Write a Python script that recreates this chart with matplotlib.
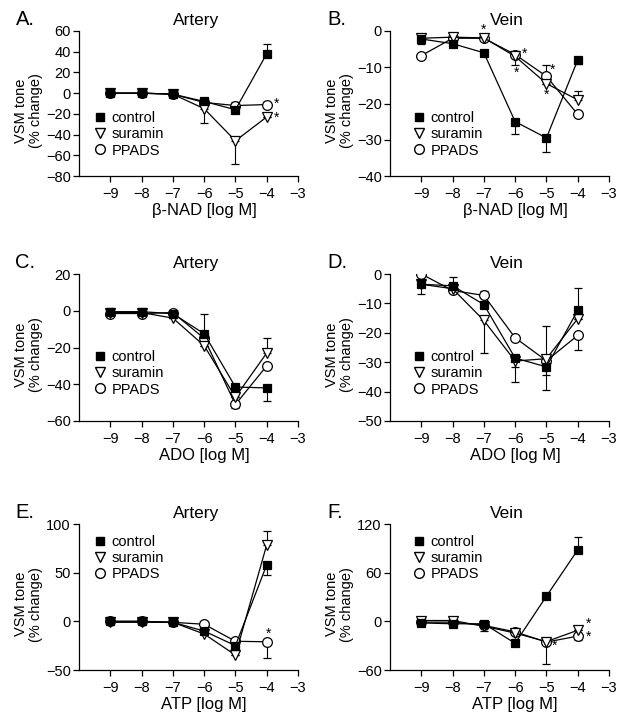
import matplotlib
matplotlib.use("Agg")
import matplotlib.pyplot as plt
from matplotlib.lines import Line2D

plt.rcParams["font.family"] = ["Liberation Sans", "DejaVu Sans"]

# ── data ─────────────────────────────────────────────────────────────────────
dose = [-9, -8, -7, -6, -5, -4]
groups = ["control", "suramin", "PPADS"]

# A. beta-NAD, artery
a_ctrl = [0, 0, -1, -8, -16, 38]
a_ctrl_lo = [0, 0, 0, 1, 2, 0]
a_ctrl_hi = [1, 1, 1, 1, 0, 9]
a_sur = [0, 0, -1, -15, -46, -23]
a_sur_lo = [0, 0, 0, 14, 22, 0]
a_sur_hi = [0, 0, 0, 0, 0, 0]
a_ppads = [0, 0, -1, -9, -12, -11]
a_ppads_lo = [0, 0, 0, 0, 0, 0]
a_ppads_hi = [0, 0, 0, 0, 3, 2]

# B. beta-NAD, vein
b_ctrl = [-2.2, -3.5, -6, -25, -29.5, -8]
b_ctrl_lo = [1.3, 0.5, 0, 3.5, 3.8, 1]
b_ctrl_hi = [0, 0, 0, 0, 0, 0.5]
b_sur = [-2, -1.7, -1.9, -7, -14.5, -19]
b_sur_lo = [0, 0, 0, 2.5, 0, 0]
b_sur_hi = [0, 0, 0, 0, 0, 2.5]
b_ppads = [-6.8, -2, -2, -6.5, -12.5, -23]
b_ppads_lo = [0, 0, 0, 0, 0, 0]
b_ppads_hi = [0, 0, 0, 1, 3, 0]

# C. ADO, artery
c_ctrl = [-0.5, -0.5, -1.6, -12.5, -41.5, -42]
c_ctrl_lo = [0, 0, 0, 0, 0, 7]
c_ctrl_hi = [0, 0, 0, 10.5, 0, 0]
c_sur = [-1, -1, -4, -19, -47, -23]
c_sur_lo = [0, 0, 0, 0, 0, 0]
c_sur_hi = [0, 0, 0, 0, 0, 8]
c_ppads = [-1.5, -1.5, -1, -15, -51, -30]
c_ppads_lo = [0, 0, 0, 0, 2, 0]
c_ppads_hi = [0, 0, 0, 0, 0, 0]

# D. ADO, vein
d_ctrl = [-3.5, -4, -10.4, -28.6, -31.6, -12.4]
d_ctrl_lo = [3.4, 0, 0, 3, 8, 0]
d_ctrl_hi = [0, 3, 4.5, 0, 0, 7.5]
d_sur = [-3.5, -5, -15.8, -29.6, -28.8, -15.2]
d_sur_lo = [0, 0, 11, 7.3, 0, 0]
d_sur_hi = [0, 0, 0, 0, 11, 0]
d_ppads = [0, -5.6, -7.3, -21.7, -29.5, -20.9]
d_ppads_lo = [0, 0, 0, 0, 5, 5]
d_ppads_hi = [0, 0, 0, 0, 0, 0]

# E. ATP, artery
e_ctrl = [0, 0, -1, -10, -25, 58]
e_ctrl_lo = [0, 0, 0, 0, 0, 10.5]
e_ctrl_hi = [0, 0, 0, 0, 0, 0]
e_sur = [-1, -1, -1, -13, -34.7, 78.6]
e_sur_lo = [0, 0, 0, 0, 0, 0]
e_sur_hi = [0, 0, 0, 0, 0, 14]
e_ppads = [0, 0, -1, -3, -20.5, -21]
e_ppads_lo = [0, 0, 0, 0, 0, 17]
e_ppads_hi = [0, 0, 0, 0, 0, 0]

# F. ATP, vein
f_ctrl = [-2, -3, -3, -27, 31, 88]
f_ctrl_lo = [0, 0, 0, 0, 0, 0]
f_ctrl_hi = [0, 0, 0, 0, 3, 16]
f_sur = [1, 1, -6, -14.5, -25, -11]
f_sur_lo = [0, 0, 6.5, 0, 27, 0]
f_sur_hi = [0, 0, 0, 0, 0, 0]
f_ppads = [-1, -1, -5, -13, -25.6, -18.2]
f_ppads_lo = [0, 0, 0, 0, 0, 5]
f_ppads_hi = [0, 0, 0, 0, 0, 0]

# significance marks (x, y)
a_stars = [(-3.7, -10.6), (-3.7, -23.5)]
b_stars = [(-7.0, 0.3), (-5.7, -6.4), (-5.97, -11.4), (-4.8, -10.8), (-5.0, -17.7)]
e_stars = [(-3.95, -12.4)]
f_stars = [(-4.75, -29.8), (-3.67, -2.5), (-3.67, -19.5)]

panels = [
    dict(letter="A.", title="Artery", xlabel="β-NAD [log M]", ylim=(-80, 60), step=20,
         series=[(a_ppads, a_ppads_lo, a_ppads_hi), (a_sur, a_sur_lo, a_sur_hi),
                 (a_ctrl, a_ctrl_lo, a_ctrl_hi)],
         stars=a_stars, leg_y=0.377, leg_x=0.07),
    dict(letter="B.", title="Vein", xlabel="β-NAD [log M]", ylim=(-40, 0), step=10,
         series=[(b_ppads, b_ppads_lo, b_ppads_hi), (b_sur, b_sur_lo, b_sur_hi),
                 (b_ctrl, b_ctrl_lo, b_ctrl_hi)],
         stars=b_stars, leg_y=0.377, leg_x=0.105),
    dict(letter="C.", title="Artery", xlabel="ADO [log M]", ylim=(-60, 20), step=20,
         series=[(c_ppads, c_ppads_lo, c_ppads_hi), (c_sur, c_sur_lo, c_sur_hi),
                 (c_ctrl, c_ctrl_lo, c_ctrl_hi)],
         stars=[], leg_y=0.412, leg_x=0.07),
    dict(letter="D.", title="Vein", xlabel="ADO [log M]", ylim=(-50, 0), step=10,
         series=[(d_ppads, d_ppads_lo, d_ppads_hi), (d_sur, d_sur_lo, d_sur_hi),
                 (d_ctrl, d_ctrl_lo, d_ctrl_hi)],
         stars=[], leg_y=0.412, leg_x=0.105),
    dict(letter="E.", title="Artery", xlabel="ATP [log M]", ylim=(-50, 100), step=50,
         series=[(e_ppads, e_ppads_lo, e_ppads_hi), (e_sur, e_sur_lo, e_sur_hi),
                 (e_ctrl, e_ctrl_lo, e_ctrl_hi)],
         stars=e_stars, leg_y=0.854, leg_x=0.07),
    dict(letter="F.", title="Vein", xlabel="ATP [log M]", ylim=(-60, 120), step=60,
         series=[(f_ppads, f_ppads_lo, f_ppads_hi), (f_sur, f_sur_lo, f_sur_hi),
                 (f_ctrl, f_ctrl_lo, f_ctrl_hi)],
         stars=f_stars, leg_y=0.854, leg_x=0.105),
]

# drawn in order PPADS, suramin, control (control on top)
styles = [
    dict(marker="o", ms=7, mfc="white", mec="black"),
    dict(marker="v", ms=7.5, mfc="white", mec="black"),
    dict(marker="s", ms=5.5, mfc="black", mec="black"),
]

fig = plt.figure(figsize=(6.22, 7.2), dpi=100)

lefts = [79 / 622, 390 / 622]
bottoms = [1 - 176 / 720, 1 - 421 / 720, 1 - 670 / 720]
heights = [145 / 720, 147 / 720, 146 / 720]
W = 219 / 622

for i, p in enumerate(panels):
    row, col = divmod(i, 2)
    ax = fig.add_axes([lefts[col], bottoms[row], W, heights[row]])

    for (y, lo, hi), st in zip(p["series"], styles):
        ax.errorbar(dose, y, yerr=[lo, hi], color="black", lw=0.9, elinewidth=0.8,
                    capsize=3, capthick=0.8, mew=0.9, zorder=3, **st)

    for sx, sy in p["stars"]:
        ax.text(sx, sy, "*", ha="center", va="center", fontsize=10, clip_on=False)

    ax.set_xlim(-10, -3)
    ax.set_ylim(*p["ylim"])
    ax.set_xticks(range(-9, -2))
    ax.set_yticks(range(p["ylim"][0], p["ylim"][1] + 1, p["step"]))
    for s in ("top", "right"):
        ax.spines[s].set_visible(False)
    for s in ("left", "bottom"):
        ax.spines[s].set_linewidth(0.9)
    ax.tick_params(direction="out", length=4.5, width=0.9, labelsize=10.5, pad=1.5)
    ax.tick_params(axis="x", pad=3.5)

    ax.set_xlabel(p["xlabel"], fontsize=12)
    ax.xaxis.set_label_coords(0.571, -0.185)
    ax.set_ylabel("VSM tone\n(% change)", fontsize=10.5, linespacing=1.05)
    ax.yaxis.set_label_coords(-0.165, 0.45)

    ax.text(0.534, 1.04, p["title"], transform=ax.transAxes,
            ha="center", va="baseline", fontsize=12.5)
    ax.text(-0.29 if col == 0 else -0.285, 1.04, p["letter"], transform=ax.transAxes,
            ha="left", va="baseline", fontsize=14.5)

    handles = [Line2D([], [], linestyle="none", color="black", **styles[2]),
               Line2D([], [], linestyle="none", color="black", **styles[1]),
               Line2D([], [], linestyle="none", color="black", **styles[0])]
    ax.legend(handles, groups, loc="upper left",
              bbox_to_anchor=(p["leg_x"], p["leg_y"] + 0.07),
              frameon=False, fontsize=10.5, handlelength=0.8, handletextpad=0.4,
              labelspacing=0.15, borderpad=0, borderaxespad=0)

fig.savefig("out.png", dpi=100)
